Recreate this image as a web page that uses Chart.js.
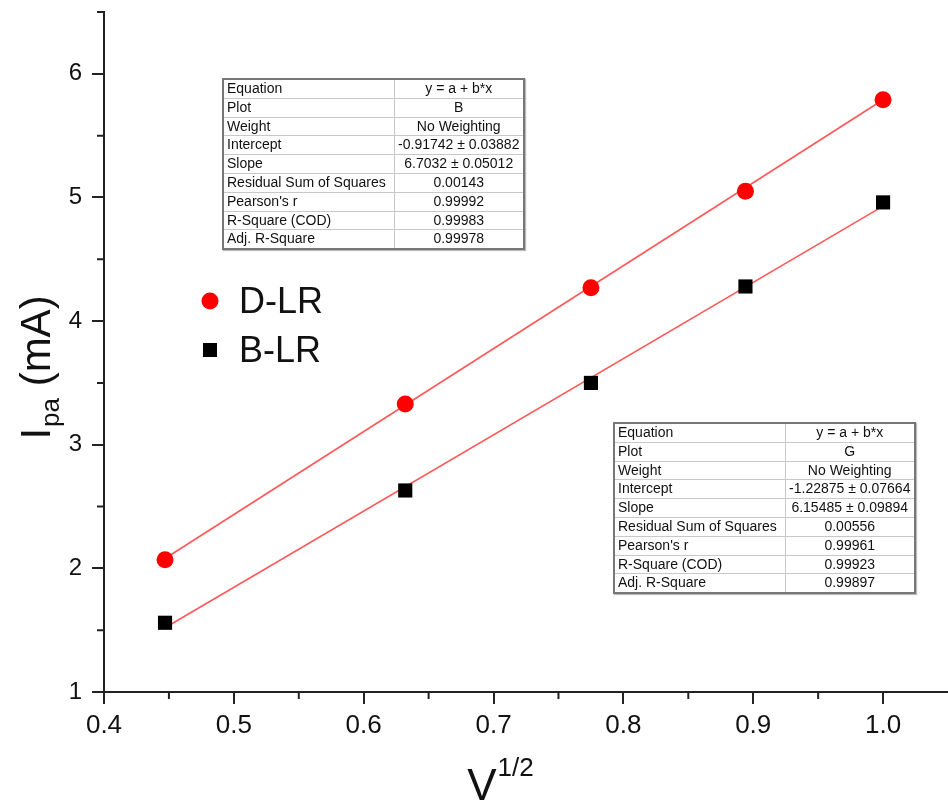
<!DOCTYPE html>
<html>
<head>
<meta charset="utf-8">
<script src="https://cdn.jsdelivr.net/npm/chart.js@4/dist/chart.umd.min.js"></script>
<style>
  html, body { margin: 0; padding: 0; background: #fff; }
  #wrap { position: relative; width: 948px; height: 805px; }
  canvas { position: absolute; left: 0; top: 0; }
  table.fit {
    position: absolute;
    border-collapse: collapse;
    table-layout: fixed;
    font-family: Arial, 'Liberation Sans', sans-serif;
    font-size: 14px;
    color: #111;
    background: #fff;
    border: 2px solid #777;
    box-shadow: 1px 1px 1px #bbb;
  }
  table.fit td {
    border: 1px solid #c8c8c8;
    padding: 0 3px;
    height: 17.8px;
    line-height: 17.8px;
    white-space: nowrap;
    overflow: hidden;
  }
  table.fit td.v { text-align: center; }
</style>
</head>
<body>
<div id="wrap">
  <canvas id="chart" width="948" height="805"></canvas>
</div>
<script>
// data
const xValues = [0.447, 0.632, 0.775, 0.894, 1.0];
const dlrValues = [2.07, 3.33, 4.27, 5.05, 5.79];
const blrValues = [1.56, 2.63, 3.50, 4.28, 4.96];
const fitX = [0.447, 1.0];
const dlrFit = [2.08, 5.79];
const blrFit = [1.52, 4.93];

const xTicks = [0.4, 0.5, 0.6, 0.7, 0.8, 0.9, 1.0];
const xMinor = [0.45, 0.55, 0.65, 0.75, 0.85, 0.95];
const yTicks = [1, 2, 3, 4, 5, 6];
const yMinor = [1.5, 2.5, 3.5, 4.5, 5.5, 6.5];

const tableLabels = ['Equation', 'Plot', 'Weight', 'Intercept', 'Slope',
  'Residual Sum of Squares', "Pearson's r", 'R-Square (COD)', 'Adj. R-Square'];
const tableD = ['y = a + b*x', 'B', 'No Weighting', '-0.91742 ± 0.03882',
  '6.7032 ± 0.05012', '0.00143', '0.99992', '0.99983', '0.99978'];
const tableB = ['y = a + b*x', 'G', 'No Weighting', '-1.22875 ± 0.07664',
  '6.15485 ± 0.09894', '0.00556', '0.99961', '0.99923', '0.99897'];

const FONT = 'Arial, "Liberation Sans", sans-serif';

function makeTable(values, left, top, w1, w2) {
    const t = document.createElement('table');
    t.className = 'fit';
    t.style.left = left + 'px';
    t.style.top = top + 'px';
    t.style.width = (w1 + w2) + 'px';
    const cg = document.createElement('colgroup');
    [w1, w2].forEach(function(w) {
        const c = document.createElement('col');
        c.style.width = w + 'px';
        cg.appendChild(c);
    });
    t.appendChild(cg);
    tableLabels.forEach(function(lab, i) {
        const tr = document.createElement('tr');
        const a = document.createElement('td');
        a.textContent = lab;
        const b = document.createElement('td');
        b.className = 'v';
        b.textContent = values[i];
        tr.appendChild(a);
        tr.appendChild(b);
        t.appendChild(tr);
    });
    document.getElementById('wrap').appendChild(t);
}
makeTable(tableD, 222, 78, 171, 130);
makeTable(tableB, 613, 422, 171, 130);

const axisColor = '#222';

// minor ticks, axis titles and the legend
const extras = {
    id: 'extras',
    afterDraw: function(chart) {
        const ctx = chart.ctx;
        const xs = chart.scales.x, ys = chart.scales.y;
        const area = chart.chartArea;
        ctx.save();
        ctx.strokeStyle = axisColor;
        ctx.lineWidth = 2;
        ctx.beginPath();
        xMinor.forEach(function(v) {
            const px = xs.getPixelForValue(v);
            ctx.moveTo(px, area.bottom);
            ctx.lineTo(px, area.bottom + 7);
        });
        yMinor.forEach(function(v) {
            const py = ys.getPixelForValue(v);
            ctx.moveTo(area.left, py);
            ctx.lineTo(area.left - 7, py);
        });
        ctx.stroke();

        // x title: V^1/2
        ctx.fillStyle = '#111';
        ctx.textBaseline = 'alphabetic';
        ctx.textAlign = 'left';
        ctx.font = '44px ' + FONT;
        const vw = ctx.measureText('V').width;
        ctx.font = '26px ' + FONT;
        const sw = ctx.measureText('1/2').width;
        let x0 = 500 - (vw + sw) / 2;
        ctx.font = '44px ' + FONT;
        ctx.fillText('V', x0, 800);
        ctx.font = '26px ' + FONT;
        ctx.fillText('1/2', x0 + vw + 1, 776);

        // y title: I_pa (mA)
        ctx.translate(50, 368);
        ctx.rotate(-Math.PI / 2);
        ctx.font = '42px ' + FONT;
        const iw = ctx.measureText('I').width;
        const mw = ctx.measureText(' (mA)').width;
        ctx.font = '26px ' + FONT;
        const pw = ctx.measureText('pa').width;
        let t0 = -(iw + pw + mw) / 2;
        ctx.font = '42px ' + FONT;
        ctx.fillText('I', t0, 0);
        ctx.font = '26px ' + FONT;
        ctx.fillText('pa', t0 + iw + 1, 9);
        ctx.font = '42px ' + FONT;
        ctx.fillText(' (mA)', t0 + iw + pw + 1, 0);
        ctx.restore();

        // legend
        ctx.save();
        const ds = chart.data.datasets;
        ctx.font = '36px ' + FONT;
        ctx.textBaseline = 'middle';
        ctx.fillStyle = ds[0].backgroundColor;
        ctx.beginPath();
        ctx.arc(210, 301, 8.5, 0, Math.PI * 2);
        ctx.fill();
        ctx.fillStyle = '#111';
        ctx.fillText(ds[0].label, 239, 303);
        ctx.fillStyle = ds[1].backgroundColor;
        ctx.fillRect(203, 343, 14, 14);
        ctx.fillStyle = '#111';
        ctx.fillText(ds[1].label, 239, 352);
        ctx.restore();
    }
};

function pts(xsArr, ysArr) {
    return xsArr.map(function(x, i) { return { x: x, y: ysArr[i] }; });
}

new Chart(document.getElementById('chart').getContext('2d'), {
    type: 'scatter',
    data: {
        datasets: [
            { label: 'D-LR', data: pts(xValues, dlrValues), backgroundColor: '#ff0000',
              borderWidth: 0, pointStyle: 'circle', pointRadius: 8.5, order: 1 },
            { label: 'B-LR', data: pts(xValues, blrValues), backgroundColor: '#000000',
              borderWidth: 0, pointStyle: 'rect', pointRadius: 10, order: 1 },
            { label: 'D-LR fit', data: pts(fitX, dlrFit), showLine: true, pointRadius: 0,
              borderColor: '#ff5858', borderWidth: 1.6, order: 2 },
            { label: 'B-LR fit', data: pts(fitX, blrFit), showLine: true, pointRadius: 0,
              borderColor: '#ff5858', borderWidth: 1.6, order: 2 }
        ]
    },
    options: {
        responsive: false,
        animation: false,
        layout: { autoPadding: false, padding: { top: 12, right: 0, left: 0, bottom: 0 } },
        plugins: { legend: { display: false }, tooltip: { enabled: false } },
        scales: {
            x: {
                type: 'linear', min: 0.4, max: 1.05,
                afterBuildTicks: function(s) { s.ticks = xTicks.map(function(v) { return { value: v }; }); },
                afterFit: function(s) {
                    s.height = 113;
                    s.paddingLeft = 0; s.paddingRight = 0;
                },
                ticks: {
                    callback: function(v) { return v.toFixed(1); },
                    font: { family: FONT, size: 26 },
                    color: '#111', padding: 6, maxRotation: 0
                },
                grid: { drawOnChartArea: false, tickLength: 12, color: axisColor, lineWidth: 2 },
                border: { color: axisColor, width: 2 }
            },
            y: {
                type: 'linear', min: 1, max: 6.5,
                afterBuildTicks: function(s) { s.ticks = yTicks.map(function(v) { return { value: v }; }); },
                afterFit: function(s) {
                    s.width = 104;
                    s.paddingTop = 0; s.paddingBottom = 0;
                },
                ticks: {
                    callback: function(v) { return String(v); },
                    font: { family: FONT, size: 24 },
                    color: '#111', padding: 10
                },
                grid: { drawOnChartArea: false, tickLength: 12, color: axisColor, lineWidth: 2 },
                border: { color: axisColor, width: 2 }
            }
        }
    },
    plugins: [extras]
});
</script>
</body>
</html>
